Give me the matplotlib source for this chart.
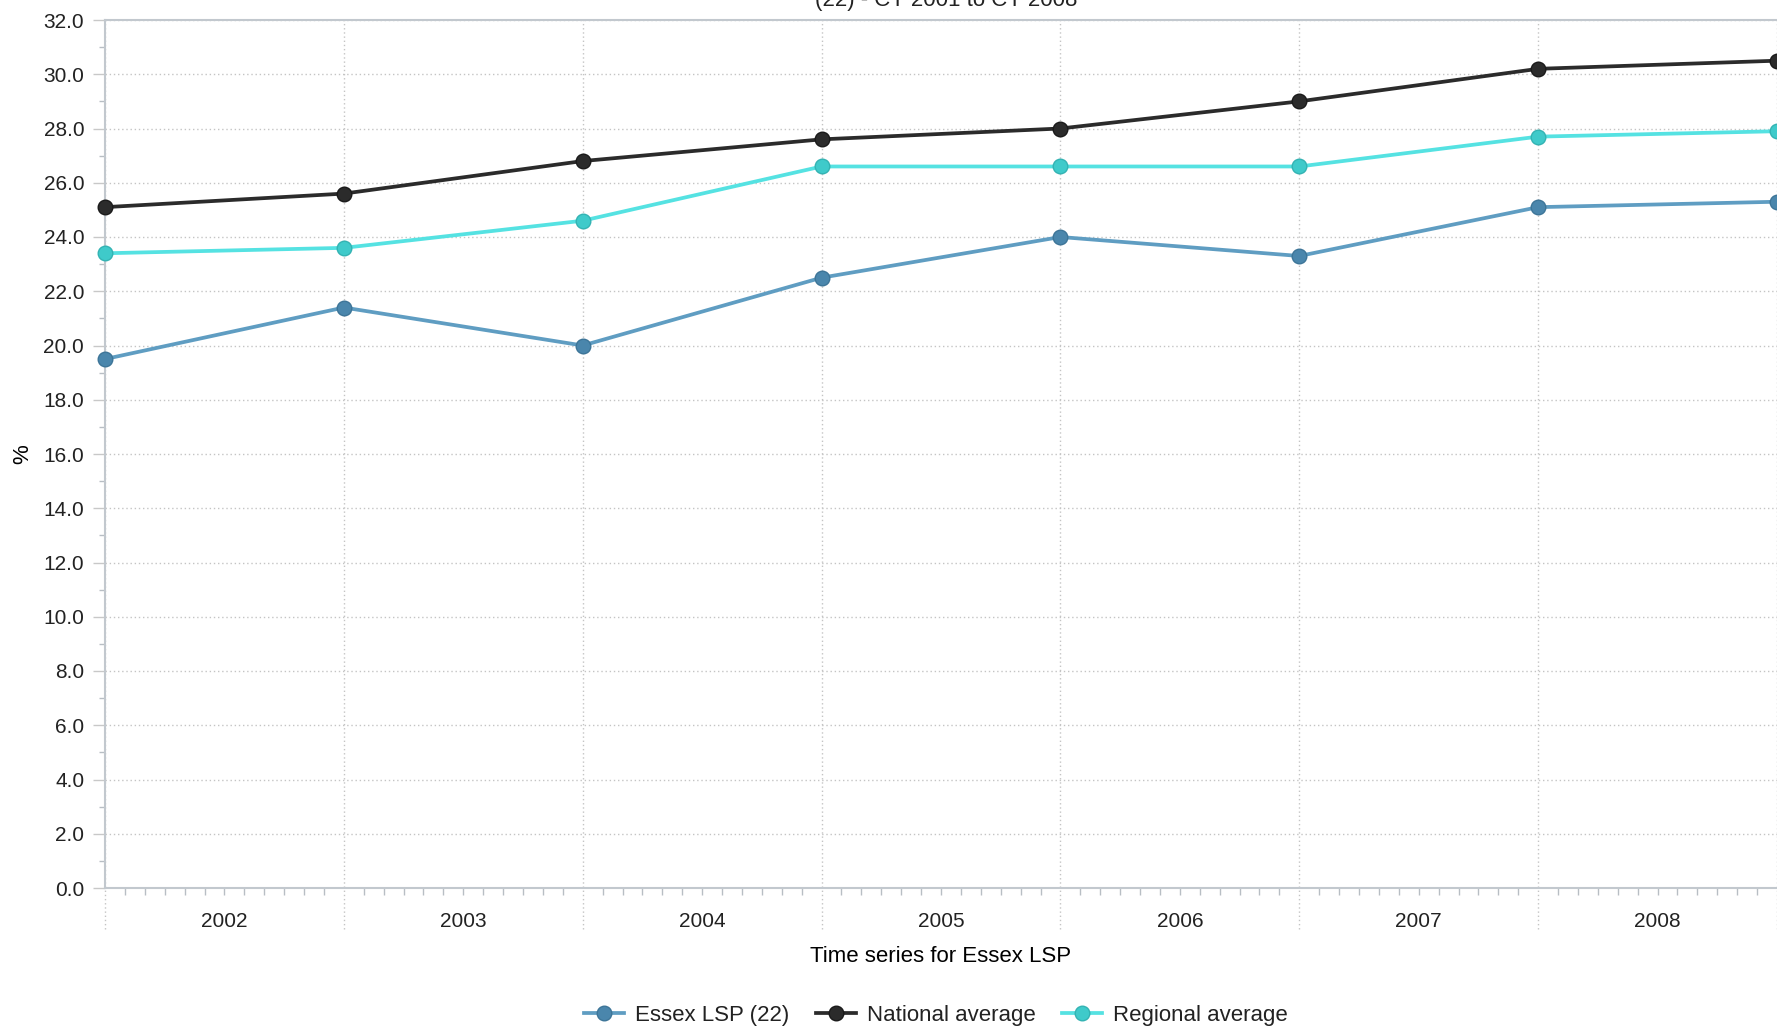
import numpy as np
import matplotlib
matplotlib.use("Agg")
import matplotlib.pyplot as plt
from matplotlib.ticker import FixedLocator, FormatStrFormatter, MultipleLocator

# values (CY 2001 .. CY 2008)
essex = [19.5, 21.4, 20.0, 22.5, 24.0, 23.3, 25.1, 25.3]
national = [25.1, 25.6, 26.8, 27.6, 28.0, 29.0, 30.2, 30.5]
regional = [23.4, 23.6, 24.6, 26.6, 26.6, 26.6, 27.7, 27.9]
year_labels = ['2002', '2003', '2004', '2005', '2006', '2007', '2008']

plt.rcParams['font.family'] = ['Liberation Sans', 'DejaVu Sans']
plt.rcParams['font.size'] = 15
plt.rcParams['text.color'] = '#222222'

fig = plt.figure(figsize=(17.77, 10.30), dpi=100)
ax = fig.add_axes([105 / 1777, 1 - 888 / 1030, 1 - 105 / 1777, (888 - 20) / 1030])

x = np.arange(len(essex))

ax.plot(x, essex, color='#5f9dc2', lw=2.7, marker='o', ms=10.5,
        mfc='#4a86ac', mec='#3d7598', mew=1, label='Essex LSP (22)', clip_on=False, zorder=4)
ax.plot(x, national, color='#2b2b2b', lw=2.7, marker='o', ms=10.5,
        mfc='#2b2b2b', mec='#1a1a1a', mew=1, label='National average', clip_on=False, zorder=4)
ax.plot(x, regional, color='#55e2e2', lw=2.7, marker='o', ms=10.5,
        mfc='#3fcaca', mec='#33b3b3', mew=1, label='Regional average', clip_on=False, zorder=4)

ax.set_xlim(0, len(essex) - 1)
ax.set_ylim(0, 32)

# vertical dotted grid at each year boundary, running down through the label band
ax.vlines(x, -0.047, 1, transform=ax.get_xaxis_transform(), clip_on=False,
          colors='#c4c4c4', linestyles=(0, (1, 2)), lw=1, zorder=1)

# year labels sit in the middle of each interval, month ticks as minor ticks
mid = np.arange(len(year_labels)) + 0.5
ax.set_xticks(mid, year_labels)
ax.xaxis.remove_overlapping_locs = False
months = [i + k / 12 for i in range(len(year_labels)) for k in range(1, 12)]
ax.xaxis.set_minor_locator(FixedLocator(months))
ax.tick_params(axis='x', which='major', length=0, pad=17, labelsize=15, labelcolor='#222222')
ax.tick_params(axis='x', which='minor', length=5, width=1, color='#b8bec4')

ax.yaxis.set_major_locator(MultipleLocator(2))
ax.yaxis.set_minor_locator(MultipleLocator(1))
ax.yaxis.set_major_formatter(FormatStrFormatter('%.1f'))
ax.tick_params(axis='y', which='major', length=9, width=1, color='#c8c8c8', pad=6,
               labelsize=15, labelcolor='#222222')
ax.tick_params(axis='y', which='minor', length=4.5, width=1, color='#b8bec4')
ax.yaxis.grid(True, which='major', color='#c4c4c4', linestyle=(0, (1, 2)), lw=1)
ax.set_axisbelow(True)

for side in ['left', 'bottom', 'top']:
    ax.spines[side].set_color('#c2c8ce')
    ax.spines[side].set_linewidth(1.5)
ax.spines['right'].set_visible(False)

ax.set_xlabel('Time series for Essex LSP', fontsize=16)
ax.xaxis.set_label_coords(0.5, -0.067)
ax.set_ylabel('%', fontsize=16)
ax.yaxis.set_label_coords(-0.043, 0.5)

fig.text(946 / 1777, 1 - 6 / 1030, '(22) - CY 2001 to CY 2008', ha='center', va='baseline',
         fontsize=16)

fig.legend(loc='center', bbox_to_anchor=(936 / 1777, 1 - 1015 / 1030), ncol=3, frameon=False,
           handlelength=1.8, columnspacing=1.2, handletextpad=0.5, fontsize=16)

fig.savefig('out.png', dpi=100)
